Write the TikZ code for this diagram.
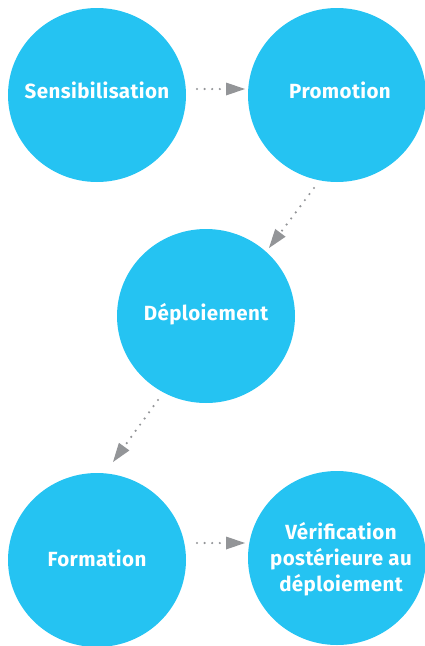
\documentclass[tikz,border=0pt]{standalone}
\usepackage{fontspec}
\setmainfont{Fira Sans}[LetterSpace=2]
\usetikzlibrary{shapes.geometric,arrows.meta}
\definecolor{bubblue}{RGB}{37,195,242}
\definecolor{arrgray}{RGB}{147,149,152}
\begin{document}
\begin{tikzpicture}[x=1pt,y=-1pt,
  bub/.style={ellipse,fill=bubblue,draw=none,minimum width=178pt,minimum height=174pt,inner sep=0pt},
  lab/.style={text=white,font=\fontsize{20.5}{26}\selectfont\bfseries,align=center,inner sep=0pt},
  arr/.style={draw=arrgray,line width=2.4pt,line cap=round,dash pattern=on 0pt off 7.6pt,
    -{Triangle[length=19pt,width=13pt,fill=arrgray,line width=0pt]}}]
\useasboundingbox (0,0) rectangle (425,646);
\node[bub] (s) at (97,95) {};
\node[bub] (p) at (337,95) {};
\node[bub] (d) at (206,316) {};
\node[bub] (f) at (97,560) {};
\node[bub] (v) at (337,558) {};
\node[lab] (ts) at (97,90) {Sensibilisation};
\node[lab] (tp) at (340,90) {Promotion};
\node[lab] (td) at (206,314) {Déploiement};
\node[lab] (tf) at (97,558) {Formation};
\node[lab] (tv) at (341,559) {Vérification\\postérieure au\\déploiement};
\draw[arr] ([shift={(100,-6)}]s.center) -- ([shift={(-92,-6)}]p.center);
\draw[arr] ([shift={(-23,93)}]p.center) -- ([shift={(63,-68)}]d.center);
\draw[arr] ([shift={(-48,84)}]d.center) -- ([shift={(16,-98)}]f.center);
\draw[arr] ([shift={(100,-17)}]f.center) -- ([shift={(-92,-15)}]v.center);
\end{tikzpicture}
\end{document}
